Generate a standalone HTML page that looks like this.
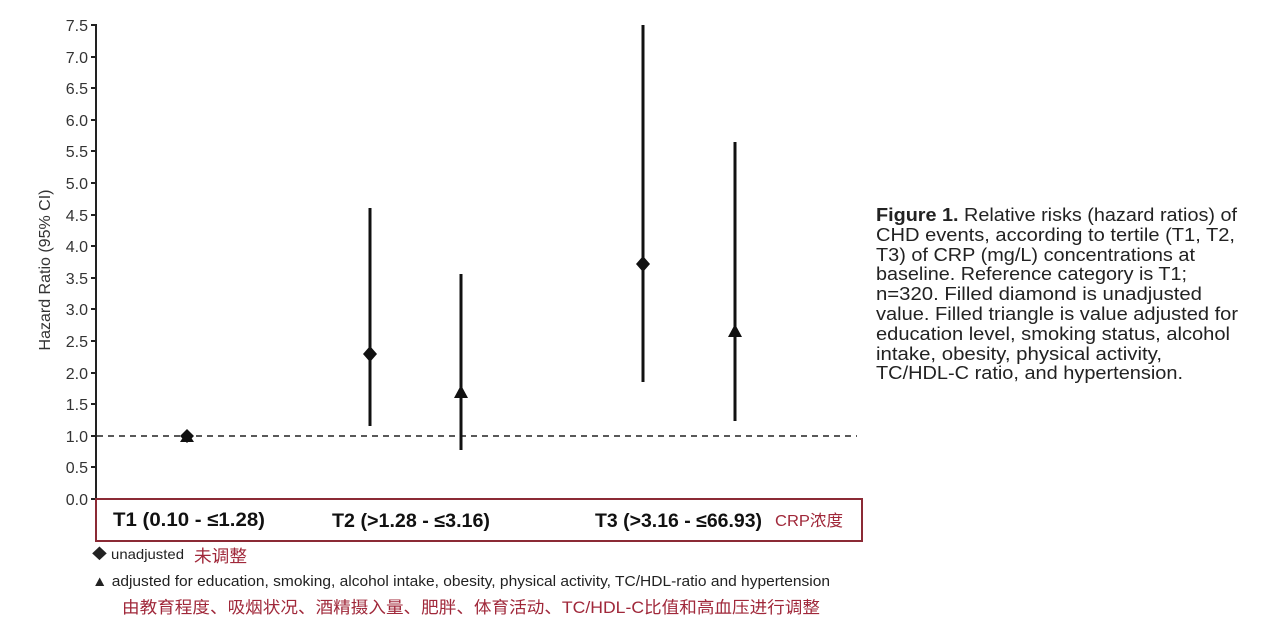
<!DOCTYPE html>
<html><head><meta charset="utf-8"><style>
html,body{margin:0;padding:0;background:#fff;}
svg{display:block;}
text{font-family:"Liberation Sans","Noto Sans CJK SC",sans-serif;}
</style></head><body>
<svg width="1280" height="625" viewBox="0 0 1280 625" xmlns="http://www.w3.org/2000/svg">
<g fill="#333" font-size="16" text-anchor="end">
<text x="88" y="31">7.5</text>
<text x="88" y="63">7.0</text>
<text x="88" y="94">6.5</text>
<text x="88" y="126">6.0</text>
<text x="88" y="157">5.5</text>
<text x="88" y="189">5.0</text>
<text x="88" y="221">4.5</text>
<text x="88" y="252">4.0</text>
<text x="88" y="284">3.5</text>
<text x="88" y="315">3.0</text>
<text x="88" y="347">2.5</text>
<text x="88" y="379">2.0</text>
<text x="88" y="410">1.5</text>
<text x="88" y="442">1.0</text>
<text x="88" y="473">0.5</text>
<text x="88" y="505">0.0</text>
</g>
<text transform="translate(50,270) rotate(-90)" font-size="16" fill="#333" text-anchor="middle">Hazard Ratio (95% CI)</text>
<g stroke="#222" stroke-width="2">
<line x1="96" y1="24" x2="96" y2="500"/>
<line x1="91" y1="25" x2="96" y2="25"/><line x1="91" y1="57" x2="96" y2="57"/><line x1="91" y1="88" x2="96" y2="88"/><line x1="91" y1="120" x2="96" y2="120"/><line x1="91" y1="151" x2="96" y2="151"/><line x1="91" y1="183" x2="96" y2="183"/><line x1="91" y1="215" x2="96" y2="215"/><line x1="91" y1="246" x2="96" y2="246"/><line x1="91" y1="278" x2="96" y2="278"/><line x1="91" y1="309" x2="96" y2="309"/><line x1="91" y1="341" x2="96" y2="341"/><line x1="91" y1="373" x2="96" y2="373"/><line x1="91" y1="404" x2="96" y2="404"/><line x1="91" y1="436" x2="96" y2="436"/><line x1="91" y1="467" x2="96" y2="467"/><line x1="91" y1="499" x2="96" y2="499"/>
</g>
<line x1="97" y1="436" x2="857" y2="436" stroke="#222" stroke-width="1.6" stroke-dasharray="6,5"/>
<g stroke="#111" stroke-width="3">
<line x1="370" y1="208" x2="370" y2="426"/>
<line x1="461" y1="274" x2="461" y2="450"/>
<line x1="643" y1="25" x2="643" y2="382"/>
<line x1="735" y1="142" x2="735" y2="421"/>
</g>
<g fill="#111">
<polygon points="187,429 194,436 187,443 180,436"/>
<polygon points="187,431 194,442 180,442"/>
<polygon points="370,346 377,354 370,362 363,354"/>
<polygon points="461,385 468,398 454,398"/>
<polygon points="643,256 650,264 643,272 636,264"/>
<polygon points="735,324 742,337 728,337"/>
</g>
<rect x="96" y="499" width="766" height="42" fill="none" stroke="#8b2a35" stroke-width="2"/>
<g font-size="19" font-weight="bold" fill="#111">
<text x="113" y="526" textLength="152" lengthAdjust="spacingAndGlyphs">T1  (0.10 - ≤1.28)</text>
<text x="332" y="527" textLength="158" lengthAdjust="spacingAndGlyphs">T2 (&gt;1.28 - ≤3.16)</text>
<text x="595" y="527" textLength="167" lengthAdjust="spacingAndGlyphs">T3 (&gt;3.16 - ≤66.93)</text>
</g>
<text x="775" y="526" font-size="16" fill="#a0283a" textLength="68" lengthAdjust="spacingAndGlyphs">CRP浓度</text>
<text x="92" y="559" font-size="14" fill="#222" textLength="92" lengthAdjust="spacingAndGlyphs">◆ unadjusted</text>
<text x="194" y="562" font-size="17" fill="#a0283a" textLength="53" lengthAdjust="spacingAndGlyphs">未调整</text>
<text x="92" y="586" font-size="14.5" fill="#222" textLength="738" lengthAdjust="spacingAndGlyphs">▲ adjusted for education, smoking, alcohol intake, obesity, physical activity, TC/HDL-ratio and hypertension</text>
<text x="122" y="613" font-size="16.5" fill="#a0283a" textLength="698" lengthAdjust="spacingAndGlyphs">由教育程度、吸烟状况、酒精摄入量、肥胖、体育活动、TC/HDL-C比值和高血压进行调整</text>
<g font-size="18" fill="#222">
<text x="876" y="221" textLength="361" lengthAdjust="spacingAndGlyphs"><tspan font-weight="bold">Figure 1.</tspan> Relative risks (hazard ratios) of</text>
<text x="876" y="241" textLength="359" lengthAdjust="spacingAndGlyphs">CHD events, according to tertile (T1, T2,</text>
<text x="876" y="261" textLength="319" lengthAdjust="spacingAndGlyphs">T3) of CRP (mg/L) concentrations at</text>
<text x="876" y="280" textLength="311" lengthAdjust="spacingAndGlyphs">baseline. Reference category is T1;</text>
<text x="876" y="300" textLength="326" lengthAdjust="spacingAndGlyphs">n=320. Filled diamond is unadjusted</text>
<text x="876" y="320" textLength="362" lengthAdjust="spacingAndGlyphs">value. Filled triangle is value adjusted for</text>
<text x="876" y="340" textLength="354" lengthAdjust="spacingAndGlyphs">education level, smoking status, alcohol</text>
<text x="876" y="360" textLength="286" lengthAdjust="spacingAndGlyphs">intake, obesity, physical activity,</text>
<text x="876" y="379" textLength="307" lengthAdjust="spacingAndGlyphs">TC/HDL-C ratio, and hypertension.</text>
</g>
</svg>
</body></html>
